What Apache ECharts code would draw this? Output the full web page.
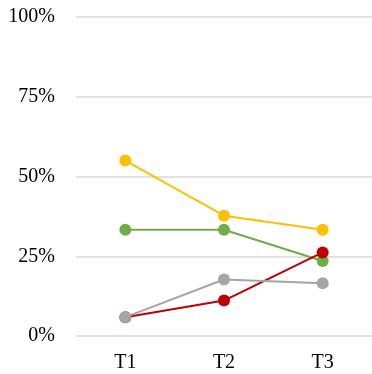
<!DOCTYPE html>
<html>
<head>
<meta charset="utf-8">
<script src="https://cdn.jsdelivr.net/npm/echarts@6/dist/echarts.min.js"></script>
<style>html,body{margin:0;padding:0;background:#fff;}#c{width:372px;height:374px;}</style>
</head>
<body>
<div id="c"></div>
<script>
var categories = ['T1', 'T2', 'T3'];
var yellowValues = [55.0, 37.7, 33.3];
var greenValues = [33.3, 33.3, 23.5];
var redValues = [5.9, 11.1, 26.2];
var greyValues = [5.9, 17.7, 16.5];
var yTicks = [0, 25, 50, 75, 100];

var chart = echarts.init(document.getElementById('c'), null, {renderer: 'canvas'});
function mk(name, data, color) {
  return {
    name: name, type: 'line', data: data,
    symbol: 'circle', symbolSize: 12,
    lineStyle: {color: color, width: 2},
    itemStyle: {color: color},
    animation: false
  };
}
chart.setOption({
  animation: false,
  grid: {left: 76, right: 0, top: 17, bottom: 38},
  xAxis: {
    type: 'category', data: categories, boundaryGap: true,
    axisLine: {show: false}, axisTick: {show: false},
    axisLabel: {fontFamily: 'Liberation Serif', fontSize: 20, color: '#000', margin: 17}
  },
  yAxis: {
    type: 'value', min: yTicks[0], max: yTicks[yTicks.length - 1], interval: 25,
    axisLine: {show: false}, axisTick: {show: false},
    axisLabel: {fontFamily: 'Liberation Serif', fontSize: 20, color: '#000', margin: 21,
      formatter: function (v) { return v + '%'; }},
    splitLine: {lineStyle: {color: '#d9d9d9', width: 1.5}}
  },
  series: [
    mk('A', yellowValues, '#FFC000'),
    mk('B', greenValues, '#70AD47'),
    mk('C', redValues, '#C00000'),
    mk('D', greyValues, '#A5A5A5')
  ]
});
</script>
</body>
</html>
